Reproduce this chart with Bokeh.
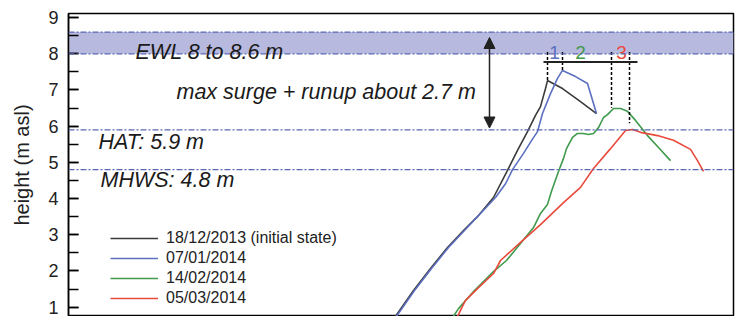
from bokeh.plotting import figure
from bokeh.models import (Range1d, BoxAnnotation, Span, Arrow, NormalHead, Legend,
                          LegendItem, Label, SingleIntervalTicker)
from bokeh.embed import file_html
from bokeh.resources import INLINE
from bokeh.core.properties import value

FONT = "Liberation Sans"

# ---------------- data (cross-shore distance, height m asl) ----------------
x_181213 = [81.0, 86.25, 90.5, 94.75, 98.75, 102.5, 106.25, 109.75, 112.25, 114.75,
            116.75, 118.0, 119.25, 119.75, 123.5, 128.0, 132.0]
h_181213 = [0.63, 1.46, 2.07, 2.65, 3.12, 3.53, 4.03, 4.78, 5.33, 5.85,
            6.30, 6.54, 7.04, 7.26, 7.04, 6.68, 6.35]

x_070114 = [81.25, 86.5, 90.75, 95.0, 99.0, 103.0, 106.75, 109.25, 111.0, 113.75,
            115.75, 117.25, 118.5, 120.5, 122.25, 123.5, 126.75, 129.75, 132.0]
h_070114 = [0.63, 1.46, 2.07, 2.65, 3.12, 3.59, 4.03, 4.41, 4.80, 5.25,
            5.60, 5.85, 6.35, 6.90, 7.32, 7.54, 7.37, 7.18, 6.35]

x_140214 = [95.5, 97.5, 99.5, 101.25, 103.75, 106.0, 109.5, 113.0, 116.25, 118.0,
            119.75, 120.75, 122.5, 123.75, 124.5, 126.0, 127.25, 128.75, 130.0, 131.25,
            132.5, 133.75, 134.75, 136.25, 138.0, 139.75, 141.75, 144.75, 147.5, 150.5]
h_140214 = [0.63, 0.96, 1.21, 1.43, 1.71, 1.96, 2.29, 2.76, 3.20, 3.59,
            3.84, 4.20, 4.75, 5.11, 5.38, 5.69, 5.80, 5.80, 5.77, 5.80,
            5.96, 6.24, 6.32, 6.49, 6.49, 6.41, 6.16, 5.74, 5.41, 5.05]

x_050314 = [96.75, 98.4, 99.25, 102.5, 106.25, 108.0, 113.0, 118.0, 123.75, 128.0,
            131.25, 135.5, 139.25, 141.0, 143.0, 147.25, 151.25, 155.5, 157.25, 158.75]
h_050314 = [0.63, 1.0, 1.19, 1.54, 1.93, 2.29, 2.79, 3.28, 3.89, 4.31,
            4.83, 5.38, 5.88, 5.91, 5.83, 5.74, 5.61, 5.36, 5.05, 4.75]

series_labels = ["18/12/2013 (initial state)", "07/01/2014", "14/02/2014", "05/03/2014"]
series_colors = ["#3b3b3b", "#5d6fc0", "#3f9a4c", "#e84a3c"]

ewl_low, ewl_high = 8.0, 8.6
hat_level = 5.9
mhws_level = 4.8

peak_x = [119.75, 123.5, 135.75, 140.25]
peak_bottom = [7.26, 7.54, 6.51, 6.08]
marker_top = 8.05
bracket_x = [118.75, 142.25]
bracket_y = 7.77
num_labels = ["1", "2", "3"]
num_x = [121.5, 128.0, 138.25]
num_y = 8.04

arrow_x = 105.25
arrow_low, arrow_high = 5.95, 8.45

# ---------------- figure ----------------
p = figure(width=740, height=316, x_range=Range1d(0, 166.25), y_range=Range1d(0.743, 9.113),
           output_backend="svg", toolbar_location=None, x_axis_location=None,
           min_border_left=68, min_border_right=7, min_border_top=13, min_border_bottom=0)
p.xgrid.grid_line_color = None
p.ygrid.grid_line_color = None
p.outline_line_color = "black"
p.outline_line_width = 1.5
p.background_fill_color = "white"
p.border_fill_color = "white"

ax = p.yaxis[0]
ax.ticker = SingleIntervalTicker(interval=1, num_minor_ticks=2)
ax.major_tick_in = 10
ax.major_tick_out = 0
ax.minor_tick_in = 10
ax.minor_tick_out = 0
ax.major_tick_line_color = "black"
ax.minor_tick_line_color = "black"
ax.major_tick_line_width = 1.5
ax.minor_tick_line_width = 1.5
ax.axis_line_color = "black"
ax.axis_line_width = 1.5
ax.major_label_text_font = FONT
ax.major_label_text_font_size = "18px"
ax.major_label_text_color = "#222222"
ax.major_label_standoff = 10
ax.axis_label = "height (m asl)"
ax.axis_label_text_font = FONT
ax.axis_label_text_font_size = "20px"
ax.axis_label_text_font_style = "normal"
ax.axis_label_text_color = "#222222"
ax.axis_label_standoff = 12

# EWL band
p.add_layout(BoxAnnotation(bottom=ewl_low, top=ewl_high, fill_color="#b8b9de",
                           fill_alpha=1.0, line_color=None, level="underlay"))
for lv in [ewl_low, ewl_high, hat_level, mhws_level]:
    p.add_layout(Span(location=lv, dimension="width", line_color="#5a67b2",
                      line_dash="6 2 2 2", line_width=1.3))

# profiles
xs = [x_181213, x_070114, x_140214, x_050314]
hs = [h_181213, h_070114, h_140214, h_050314]
renderers = []
for xv, hv, c in zip(xs, hs, series_colors):
    renderers.append(p.line(xv, hv, line_color=c, line_width=1.6))

# peak markers
p.segment(x0=peak_x, y0=[marker_top] * len(peak_x), x1=peak_x, y1=peak_bottom,
          line_color="black", line_width=1.5, line_dash="3 2")
p.segment(x0=[bracket_x[0]], y0=[bracket_y], x1=[bracket_x[1]], y1=[bracket_y],
          line_color="#222222", line_width=2)
p.text(x=num_x, y=[num_y] * len(num_x), text=num_labels,
       text_color=series_colors[1:], text_font=value(FONT), text_font_size="19px",
       text_align="center", text_baseline="middle")

# arrow
p.add_layout(Arrow(x_start=arrow_x, y_start=arrow_low, x_end=arrow_x, y_end=arrow_high,
                   line_color="#222222", line_width=1.5,
                   start=NormalHead(size=11, fill_color="#222222", line_color="#222222"),
                   end=NormalHead(size=11, fill_color="#222222", line_color="#222222")))

# annotations
def add_label(x, y, t):
    p.add_layout(Label(x=x, y=y, text=t, text_font=FONT, text_font_size="21.5px",
                       text_font_style="italic", text_color="#1a1a1a",
                       text_baseline="alphabetic"))

add_label(16.75, 8.04, "EWL 8 to 8.6 m")
add_label(27.0, 6.94, "max surge + runup about 2.7 m")
add_label(7.5, 5.56, "HAT: 5.9 m")
add_label(8.0, 4.50, "MHWS: 4.8 m")

legend = Legend(items=[LegendItem(label=l, renderers=[r]) for l, r in zip(series_labels, renderers)],
                location=(42, 8), border_line_color=None, background_fill_alpha=0,
                padding=0, margin=0, spacing=0, glyph_width=48, glyph_height=20,
                label_height=20, label_standoff=8, label_text_font=FONT,
                label_text_font_size="16px", label_text_color="#222222")
p.add_layout(legend)

open("out.html", "w").write(file_html(p, INLINE))
